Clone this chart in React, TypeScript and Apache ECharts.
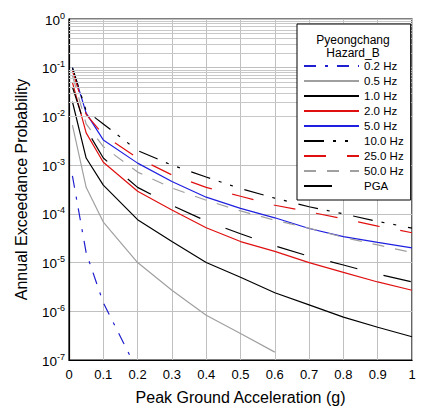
import React, { useEffect, useRef } from "react";
import * as echarts from "echarts";

// Peak ground acceleration (g) sample points
const pga_g = [0.01, 0.05, 0.1, 0.2, 0.3, 0.4, 0.5, 0.6, 0.7, 0.8, 0.9, 1.0];

// Annual exceedance probability per spectral frequency
const hz0_2 = [6e-4, 1.6e-5, 1.5e-6, 6e-8];
const hz0_5 = [6.6e-3, 3.5e-4, 6.8e-5, 1.0e-5, 2.7e-6, 8.3e-7, 3.5e-7, 1.45e-7];
const hz1_0 = [0.02, 1.4e-3, 3.9e-4, 7.6e-5, 2.7e-5, 1.0e-5, 5.0e-6, 2.4e-6, 1.35e-6, 7.6e-7, 4.7e-7, 3.0e-7];
const hz2_0 = [0.05, 4.6e-3, 1.15e-3, 2.9e-4, 1.2e-4, 5.2e-5, 2.7e-5, 1.7e-5, 1.0e-5, 6.3e-6, 4.0e-6, 2.7e-6];
const hz5_0 = [0.1, 0.0117, 3.3e-3, 1.1e-3, 4.6e-4, 2.2e-4, 1.3e-4, 8.3e-5, 5.0e-5, 3.4e-5, 2.6e-5, 2.0e-5];
const hz10_0 = [0.1, 0.013, 7e-3, 2e-3, 1e-3, 5.7e-4, 3.3e-4, 2.1e-4, 1.4e-4, 1.0e-4, 7e-5, 5.1e-5];
const hz25_0 = [0.085, 0.011, 4.2e-3, 1.4e-3, 6.3e-4, 3.5e-4, 2.3e-4, 1.5e-4, 1.1e-4, 7.9e-5, 5.6e-5, 4.1e-5];
const hz50_0 = [0.07, 7e-3, 2.4e-3, 7.2e-4, 3.4e-4, 1.9e-4, 1.15e-4, 7.4e-5, 5.1e-5, 3.3e-5, 2.3e-5, 1.6e-5];
const pgaCurve = [0.04, 5.5e-3, 1.4e-3, 3.5e-4, 1.5e-4, 7.1e-5, 3.9e-5, 2.2e-5, 1.35e-5, 8.9e-6, 5.8e-6, 4.0e-6];

const seriesNames = ["0.2 Hz", "0.5 Hz", "1.0 Hz", "2.0 Hz", "5.0 Hz", "10.0 Hz", "25.0 Hz", "50.0 Hz", "PGA"];
const legendTitle = ["Pyeongchang", "Hazard_B"];
const xTitle = "Peak Ground Acceleration (g)";
const yTitle = "Annual Exceedance Probability";

const FONT = "Liberation Sans, Arial, sans-serif";

export default function App() {
  const ref = useRef<HTMLDivElement>(null);
  useEffect(() => {
    if (!ref.current) return;
    const chart = echarts.init(ref.current, null, { renderer: "svg" });
    const toPts = (vals: number[]) => vals.map((v, i) => [pga_g[i], v]);
    const styles: any[] = [
      { color: "#1f1fd0", type: [12, 9, 3, 9] },
      { color: "#a0a0a0", type: "solid" },
      { color: "#000000", type: "solid" },
      { color: "#e01010", type: "solid" },
      { color: "#1f1fe0", type: "solid" },
      { color: "#000000", type: [20, 9, 3, 9, 3, 12] },
      { color: "#e01010", type: [22, 21] },
      { color: "#a0a0a0", type: [12, 11] },
      { color: "#000000", type: [28, 27] },
    ];
    const datas = [hz0_2, hz0_5, hz1_0, hz2_0, hz5_0, hz10_0, hz25_0, hz50_0, pgaCurve];

    const minor: any[] = [];
    for (let e = -7; e <= -1; e++) {
      for (let m = 2; m <= 9; m++) minor.push({ yAxis: m * Math.pow(10, e) });
    }

    const series: any[] = [
      {
        name: "grid-minor",
        type: "line",
        data: [],
        z: 1,
        silent: true,
        markLine: {
          silent: true,
          symbol: ["none", "none"],
          label: { show: false },
          lineStyle: { color: "#c8c8c8", type: "solid", width: 1 },
          data: minor,
          animation: false,
        },
      },
    ];
    datas.forEach((d, i) => {
      series.push({
        name: seriesNames[i],
        type: "line",
        data: toPts(d),
        symbol: "none",
        showSymbol: false,
        z: 3,
        clip: true,
        lineStyle: { color: styles[i].color, type: styles[i].type, width: 1.2 },
        itemStyle: { color: styles[i].color },
      });
    });

    chart.setOption({
      animation: false,
      backgroundColor: "#ffffff",
      textStyle: { fontFamily: FONT },
      grid: {
        left: 69,
        right: 14,
        top: 19,
        bottom: 52,
        show: true,
        borderColor: "#000",
        borderWidth: 1.2,
      },
      xAxis: {
        type: "value",
        min: 0,
        max: 1,
        interval: 0.1,
        name: xTitle,
        nameLocation: "middle",
        nameGap: 29,
        nameTextStyle: { fontSize: 16, color: "#000", fontFamily: FONT },
        axisLine: { show: true, lineStyle: { color: "#000", width: 1.2 } },
        axisTick: { show: false },
        axisLabel: { fontSize: 13, color: "#000", margin: 8, fontFamily: FONT },
        splitLine: { show: true, lineStyle: { color: "#c0c0c0", width: 1 } },
      },
      yAxis: {
        type: "log",
        logBase: 10,
        min: 1e-7,
        max: 1,
        interval: 1,
        name: yTitle,
        nameLocation: "middle",
        nameGap: 40,
        nameTextStyle: { fontSize: 16, color: "#000", fontFamily: FONT },
        axisLine: { show: true, lineStyle: { color: "#000", width: 1.2 } },
        axisTick: { show: false },
        axisLabel: {
          margin: 4,
          color: "#000",
          fontFamily: FONT,
          formatter: (v: number) => {
            const e = Math.round(Math.log10(v));
            return `{b|10}{e|${e}}`;
          },
          rich: {
            b: { fontSize: 13.5, color: "#000", fontFamily: FONT, verticalAlign: "bottom" },
            e: { fontSize: 9, color: "#000", fontFamily: FONT, verticalAlign: "bottom", padding: [0, 0, 7, 0] },
          },
        },
        splitLine: { show: true, lineStyle: { color: "#c0c0c0", width: 1 } },
      },
      legend: {
        data: seriesNames,
        orient: "vertical",
        left: 297,
        top: 24,
        padding: [36, 7, 8, 6],
        itemWidth: 55,
        itemHeight: 12,
        itemGap: 3,
        backgroundColor: "#ffffff",
        borderColor: "#000",
        borderWidth: 1,
        borderRadius: 0,
        selectedMode: false,
        itemStyle: { opacity: 0 },
        textStyle: { fontSize: 11.5, color: "#000", fontFamily: FONT, lineHeight: 12 },
        z: 10,
      },
      graphic: legendTitle.map((t, i) => ({
        type: "text",
        x: 353,
        y: 34 + i * 12.5,
        z: 100,
        style: {
          text: t,
          fontSize: 12,
          fill: "#000",
          fontFamily: FONT,
          align: "center",
          verticalAlign: "top",
        },
      })),
      series,
    });
    return () => chart.dispose();
  }, []);
  return (
    <div
      ref={ref}
      style={{ position: "fixed", left: 0, top: 0, width: 426, height: 412 }}
    />
  );
}
